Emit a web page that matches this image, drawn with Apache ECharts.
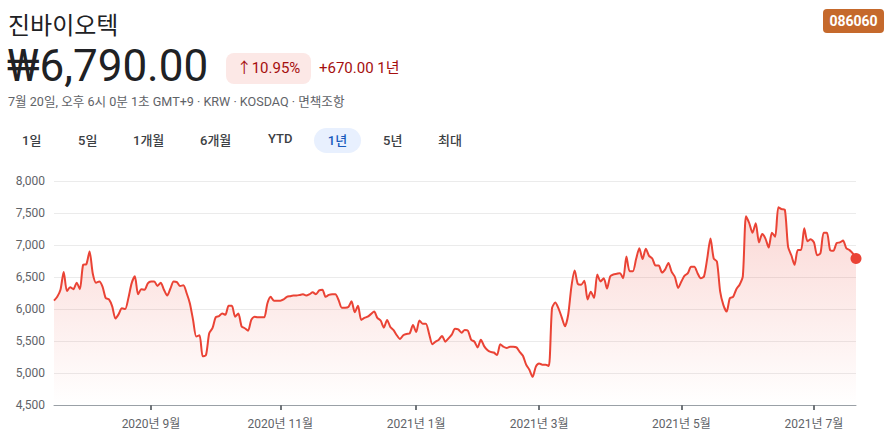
<!DOCTYPE html>
<html>
<head>
<meta charset="utf-8">
<script src="https://cdn.jsdelivr.net/npm/echarts@6/dist/echarts.min.js"></script>
<style>
  html, body { margin: 0; padding: 0; background: #fff; }
  body { width: 893px; height: 444px; position: relative; overflow: hidden;
         font-family: 'Roboto', 'Noto Sans CJK KR', sans-serif; color: #202124; }
  #chart { position: absolute; left: 0; top: 0; width: 893px; height: 444px; }
  .abs { position: absolute; white-space: nowrap; }
  #title { left: 8px; top: 7px; font-size: 24px; line-height: 34px; font-family: 'Noto Sans CJK KR', sans-serif; font-weight: 400; }
  #badge { left: 823px; top: 9px; width: 61px; height: 24px; line-height: 24px; border-radius: 4px;
           background: #c5692c; color: #fff; font-weight: 700; font-size: 14px; text-align: center; }
  #price { left: 7px; top: 40px; font-size: 44px; line-height: 52px; font-weight: 400; }
  #pill { left: 226px; top: 53px; width: 85px; height: 31px; line-height: 31px; border-radius: 8px;
          background: #fce8e6; color: #a50e0e; font-size: 15px; text-align: center; font-weight: 400; }
  #chg { left: 319px; top: 53px; line-height: 31px; font-size: 15px; color: #a50e0e; font-weight: 400; }
  #sub { left: 8px; top: 93px; font-size: 12.6px; line-height: 18px; color: #5f6368; }
  .tab { top: 128px; height: 25px; line-height: 25px; font-size: 13px; font-weight: 500; color: #3c4043; }
  #sel { left: 314px; width: 47px; text-align: center; border-radius: 13px; background: #e8f0fe; color: #185abc; }
</style>
</head>
<body>
<div id="chart"></div>
<div class="abs" id="title">진바이오텍</div>
<div class="abs" id="badge">086060</div>
<div class="abs" id="price">₩6,790.00</div>
<div class="abs" id="pill">↑10.95%</div>
<div class="abs" id="chg">+670.00 1년</div>
<div class="abs" id="sub">7월 20일, 오후 6시 0분 1초 GMT+9 · KRW · KOSDAQ · 면책조항</div>
<div class="abs tab" style="left:22px">1일</div>
<div class="abs tab" style="left:78px">5일</div>
<div class="abs tab" style="left:133px">1개월</div>
<div class="abs tab" style="left:200px">6개월</div>
<div class="abs tab" style="left:268px;top:126px">YTD</div>
<div class="abs tab" id="sel">1년</div>
<div class="abs tab" style="left:383px">5년</div>
<div class="abs tab" style="left:438px">최대</div>
<script>
// Korean market holidays (non-trading weekdays) in the period
const holidays = ['2020-08-17','2020-09-30','2020-10-01','2020-10-02','2020-10-09',
  '2020-12-25','2020-12-31','2021-01-01','2021-02-11','2021-02-12','2021-03-01',
  '2021-05-05','2021-05-19'];
const startDate = '2020-07-20';
const endDate = '2021-07-20';

// Closing prices (KRW), one per trading day
const price = [
  6130,6190,6300,6580,6280,6340,6310,6410,6310,6690,
  6700,6900,6550,6410,6430,6350,6170,6150,6040,5850,
  5920,6010,6000,6170,6400,6510,6230,6310,6300,6400,
  6430,6430,6360,6410,6300,6210,6320,6430,6420,6360,
  6370,6250,6090,5830,5570,5590,5260,5280,5620,5700,
  5870,5890,5930,5910,6050,6050,5880,5930,5730,5700,
  5660,5830,5880,5870,5870,5870,6090,6190,6130,6130,
  6130,6150,6190,6200,6210,6210,6220,6230,6210,6230,
  6260,6230,6290,6300,6190,6220,6230,6230,6140,6020,
  6020,6030,6120,5950,6050,5830,5860,5880,5920,5960,
  5860,5820,5710,5830,5720,5670,5590,5530,5590,5610,
  5620,5750,5640,5820,5770,5770,5610,5450,5490,5520,
  5580,5490,5540,5600,5690,5680,5630,5670,5660,5520,
  5490,5400,5520,5420,5360,5330,5320,5280,5450,5410,
  5390,5410,5410,5400,5330,5270,5130,5050,4940,5100,
  5150,5130,5130,5110,6010,6100,6010,5870,5730,5910,
  6350,6600,6390,6380,6440,6150,6270,6170,6540,6430,
  6480,6320,6510,6540,6550,6560,6480,6820,6590,6590,
  6780,6950,6780,6940,6830,6790,6680,6680,6570,6620,
  6720,6580,6500,6330,6430,6520,6560,6660,6660,6560,
  6480,6510,6790,7100,6790,6740,6270,6060,5960,6170,
  6190,6310,6380,6510,7450,7340,7190,7340,7040,7170,
  7100,6960,7190,7130,7590,7560,7550,6970,6840,6690,
  6920,6920,7260,7060,7090,7040,6840,6870,7190,7190,
  6920,6910,7030,7040,7070,6950,6920,6870,6790
];

// Axis tick positions (first trading day of the month) and their labels
const tickDates = ['2020-09-01','2020-11-02','2021-01-04','2021-03-02','2021-05-03','2021-07-01'];
const tickLabels = ['2020년 9월','2020년 11월','2021년 1월','2021년 3월','2021년 5월','2021년 7월'];

const yTicks = { min: 4500, max: 8000, step: 500 };

// Build trading-day categories
const tradeDates = [];
(function () {
  const d = new Date(startDate + 'T00:00:00Z');
  const end = new Date(endDate + 'T00:00:00Z');
  while (d <= end) {
    const s = d.toISOString().slice(0, 10);
    const wd = d.getUTCDay();
    if (wd !== 0 && wd !== 6 && holidays.indexOf(s) < 0) tradeDates.push(s);
    d.setUTCDate(d.getUTCDate() + 1);
  }
})();

const isTick = (i, v) => tickDates.indexOf(v) >= 0;
const lastIdx = price.length - 1;
const dotData = price.map((v, i) => i === lastIdx ? v : '-');

const chart = echarts.init(document.getElementById('chart'), null, { renderer: 'svg' });
chart.setOption({
  animation: false,
  textStyle: { fontFamily: "'Roboto', 'Noto Sans CJK KR', sans-serif" },
  grid: { left: 54, right: 37, top: 181, bottom: 39 },
  xAxis: {
    type: 'category',
    data: tradeDates,
    boundaryGap: false,
    axisLine: { lineStyle: { color: '#9aa0a6', width: 1 } },
    axisTick: { show: true, interval: isTick, length: 5, lineStyle: { color: '#70757a', width: 2 } },
    axisLabel: {
      interval: isTick,
      formatter: v => tickLabels[tickDates.indexOf(v)] || '',
      color: '#5f6368', fontSize: 12, margin: 13,
      fontFamily: "'Roboto', 'Noto Sans CJK KR', sans-serif"
    },
    splitLine: { show: false }
  },
  yAxis: {
    type: 'value',
    min: yTicks.min, max: yTicks.max, interval: yTicks.step,
    axisLine: { show: false },
    axisTick: { show: false },
    axisLabel: { color: '#5f6368', fontSize: 12, margin: 9,
      formatter: v => v.toLocaleString('en-US') },
    splitLine: { lineStyle: { color: '#ebebeb', width: 1 } }
  },
  series: [
    {
      type: 'line',
      data: price,
      smooth: 0.25,
      showSymbol: false,
      lineStyle: { color: '#ea4335', width: 2 },
      areaStyle: {
        color: new echarts.graphic.LinearGradient(0, 0, 0, 1, [
          { offset: 0, color: 'rgba(234,67,53,0.3)' },
          { offset: 1, color: 'rgba(234,67,53,0.0)' }
        ])
      },
      z: 2
    },
    {
      type: 'scatter',
      data: dotData,
      symbol: 'circle',
      symbolSize: 11,
      itemStyle: { color: '#ea4335', opacity: 1 },
      z: 3
    }
  ]
});
</script>
</body>
</html>
